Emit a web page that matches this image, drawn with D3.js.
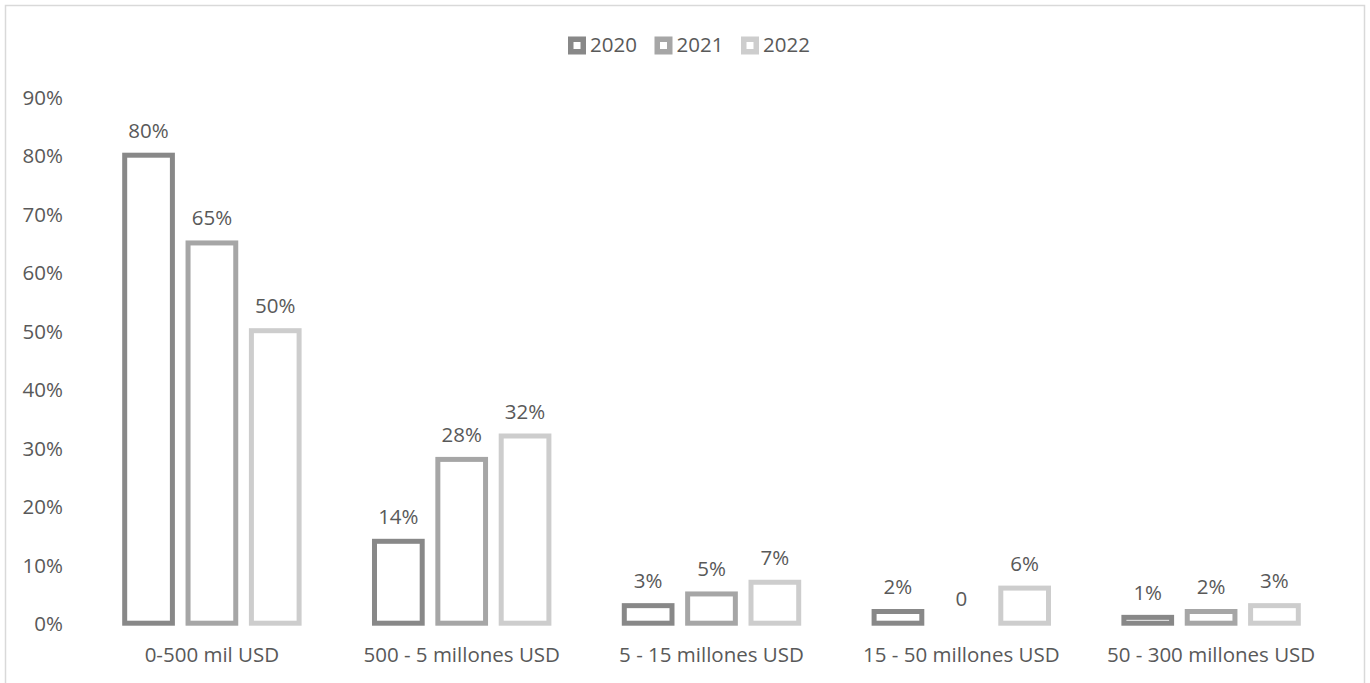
<!DOCTYPE html>
<html>
<head>
<meta charset="utf-8">
<script src="https://cdn.jsdelivr.net/npm/d3@7"></script>
<style>
  html, body { margin: 0; padding: 0; background: #fff; }
  svg { display: block; font-family: "Open Sans", sans-serif; }
</style>
</head>
<body>
<svg id="chart" width="1370" height="683"></svg>
<script>
// Company size brackets and share of companies per year
const categories = ["0-500 mil USD", "500 - 5 millones USD", "5 - 15 millones USD", "15 - 50 millones USD", "50 - 300 millones USD"];
const years = ["2020", "2021", "2022"];
const values2020 = [80, 14, 3, 2, 1];
const values2021 = [65, 28, 5, 0, 2];
const values2022 = [50, 32, 7, 6, 3];
const yTicks = [0, 10, 20, 30, 40, 50, 60, 70, 80, 90];
const seriesColors = ["#888888", "#a6a6a6", "#cdcdcd"];

const series = [values2020, values2021, values2022];
const rows = categories.map((c, i) => ({
  category: c,
  bars: years.map((y, j) => ({ year: y, value: series[j][i], color: seriesColors[j] }))
}));

const svg = d3.select("#chart");
const textColor = "#595959";

// chart frame
svg.append("rect")
  .attr("x", 5.5).attr("y", 5.5)
  .attr("width", 1359).attr("height", 700)
  .attr("fill", "none").attr("stroke", "#d9d9d9").attr("stroke-width", 1.5);

const x0 = d3.scaleBand().domain(categories).range([87, 1336]).paddingInner(0).paddingOuter(0);
const x1 = d3.scaleBand().domain(years).range([0, x0.bandwidth()]).paddingInner(0.247).paddingOuter(0.595);
const y = d3.scaleLinear().domain([0, 90]).range([623.2, 96.7]);

// y axis labels (no axis line, no gridlines)
const yAxis = d3.axisLeft(y).tickValues(yTicks).tickFormat(d => d + "%").tickSize(0).tickPadding(0);
const yg = svg.append("g").attr("transform", "translate(63,1)").call(yAxis);
yg.select(".domain").remove();
yg.selectAll("text")
  .attr("fill", textColor)
  .style("font-family", "Open Sans, sans-serif")
  .style("font-size", "20.5px");

// category labels
const xAxis = d3.axisBottom(x0).tickSize(0).tickPadding(0);
const xg = svg.append("g").attr("transform", "translate(0,647)").call(xAxis);
xg.select(".domain").remove();
xg.selectAll("text")
  .attr("fill", textColor)
  .attr("dy", "0.71em")
  .style("font-family", "Open Sans, sans-serif")
  .style("font-size", "20.5px");

// bars: outlined rectangles
const groups = svg.append("g").selectAll("g")
  .data(rows).join("g")
  .attr("transform", d => `translate(${x0(d.category)},0)`);

groups.selectAll("rect")
  .data(d => d.bars.filter(b => b.value > 0))
  .join("rect")
  .attr("x", b => x1(b.year))
  .attr("y", b => y(b.value))
  .attr("width", x1.bandwidth())
  .attr("height", b => y(0) - y(b.value))
  .attr("fill", "#fff")
  .attr("stroke", b => b.color)
  .attr("stroke-width", 5);

// value labels
groups.selectAll("text.val")
  .data(d => d.bars)
  .join("text")
  .attr("class", "val")
  .attr("x", b => x1(b.year) + x1.bandwidth() / 2)
  .attr("y", b => y(b.value) - 17.5)
  .attr("text-anchor", "middle")
  .attr("fill", textColor)
  .style("font-size", "20.5px")
  .text(b => b.value === 0 ? "0" : b.value + "%");

// legend
const legendItems = [
  { label: "2020", color: seriesColors[0], x: 568 },
  { label: "2021", color: seriesColors[1], x: 654.5 },
  { label: "2022", color: seriesColors[2], x: 741 }
];
const lg = svg.append("g").selectAll("g").data(legendItems).join("g")
  .attr("transform", d => `translate(${d.x},36.5)`);
lg.append("rect")
  .attr("x", 2.75).attr("y", 2.75).attr("width", 12.5).attr("height", 12.5)
  .attr("fill", "#fff").attr("stroke", d => d.color).attr("stroke-width", 5.5);
lg.append("text")
  .attr("x", 22).attr("y", 15.8)
  .attr("fill", textColor)
  .style("font-size", "20.5px")
  .text(d => d.label);
</script>
</body>
</html>
